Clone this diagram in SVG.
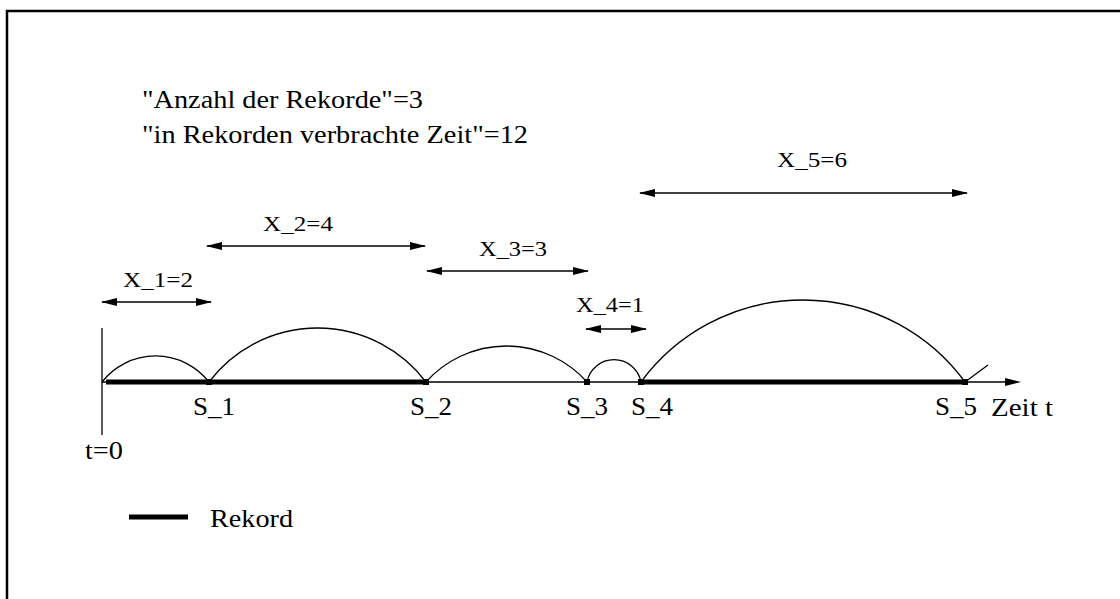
<svg xmlns="http://www.w3.org/2000/svg" width="1120" height="599" viewBox="0 0 1120 599">
<style>
text{font-family:"Liberation Serif","DejaVu Serif",serif;font-size:25px;fill:#000}
text.x{font-size:22px}
.thin{stroke:#000;stroke-width:1.3;fill:none}
.thick{stroke:#000;stroke-width:5;fill:none}
.dim{stroke:#000;stroke-width:1.3;fill:none;marker-start:url(#ah);marker-end:url(#ah)}
</style>
<defs>
<marker id="ah" viewBox="0 0 16 8" refX="15" refY="4" markerWidth="16" markerHeight="8" markerUnits="userSpaceOnUse" orient="auto-start-reverse">
<path d="M0,0 L16,4 L0,8 Z" fill="#000"/>
</marker>
</defs>
<rect x="7" y="11" width="1200" height="700" fill="#fff" stroke="#000" stroke-width="2.5"/>
<g id="header">
<text x="142" y="108" textLength="281" lengthAdjust="spacingAndGlyphs">"Anzahl der Rekorde"=3</text>
<text x="142" y="143" textLength="386" lengthAdjust="spacingAndGlyphs">"in Rekorden verbrachte Zeit"=12</text>
</g>
<g id="connectors">
<line class="thin" x1="102" y1="328" x2="102" y2="435"/>
<line class="thin" x1="102" y1="382" x2="1005" y2="382"/>
<path d="M1005,378 L1021,382 L1005,386 Z" fill="#000"/>
<line class="thick" x1="106" y1="382" x2="426" y2="382"/>
<line class="thick" x1="641" y1="382" x2="965" y2="382"/>
<path class="thin" d="M102,382 A68,68 0 0 1 209,382"/>
<path class="thin" d="M209,382 A136,136 0 0 1 426,382"/>
<path class="thin" d="M426,382 A108,108 0 0 1 587,382"/>
<path class="thin" d="M587,382 A27.5,27.5 0 0 1 641,382"/>
<path class="thin" d="M641,382 A201,201 0 0 1 965,382"/>
<line class="thin" x1="965" y1="382" x2="988" y2="365"/>
<line class="dim" x1="102" y1="302" x2="211" y2="302"/>
<line class="dim" x1="207" y1="246" x2="425" y2="246"/>
<line class="dim" x1="427" y1="271" x2="588" y2="271"/>
<line class="dim" x1="586" y1="329" x2="646" y2="329"/>
<line class="dim" x1="640" y1="193" x2="967" y2="193"/>
</g>
<g id="points">
<rect x="206" y="379" width="6" height="6"/>
<rect x="423" y="379" width="6" height="6"/>
<rect x="584" y="379" width="6" height="6"/>
<rect x="638" y="379" width="6" height="6"/>
<rect x="962" y="379" width="6" height="6"/>
</g>
<g id="labels">
<text class="x" x="123" y="287" textLength="70" lengthAdjust="spacingAndGlyphs">X_1=2</text>
<text class="x" x="263" y="231" textLength="70" lengthAdjust="spacingAndGlyphs">X_2=4</text>
<text class="x" x="479" y="256" textLength="68" lengthAdjust="spacingAndGlyphs">X_3=3</text>
<text class="x" x="576" y="312" textLength="68" lengthAdjust="spacingAndGlyphs">X_4=1</text>
<text class="x" x="777" y="167" textLength="70" lengthAdjust="spacingAndGlyphs">X_5=6</text>
<text x="193" y="415" textLength="42" lengthAdjust="spacingAndGlyphs">S_1</text>
<text x="410" y="415" textLength="42" lengthAdjust="spacingAndGlyphs">S_2</text>
<text x="566" y="415" textLength="42" lengthAdjust="spacingAndGlyphs">S_3</text>
<text x="631" y="415" textLength="42" lengthAdjust="spacingAndGlyphs">S_4</text>
<text x="935" y="415" textLength="42" lengthAdjust="spacingAndGlyphs">S_5</text>
<text x="991" y="416" textLength="62" lengthAdjust="spacingAndGlyphs">Zeit t</text>
<text x="85" y="459" textLength="38" lengthAdjust="spacingAndGlyphs">t=0</text>
</g>
<g id="legend">
<line class="thick" x1="129" y1="517" x2="188" y2="517"/>
<text x="210" y="527" textLength="83" lengthAdjust="spacingAndGlyphs">Rekord</text>
</g>
</svg>
